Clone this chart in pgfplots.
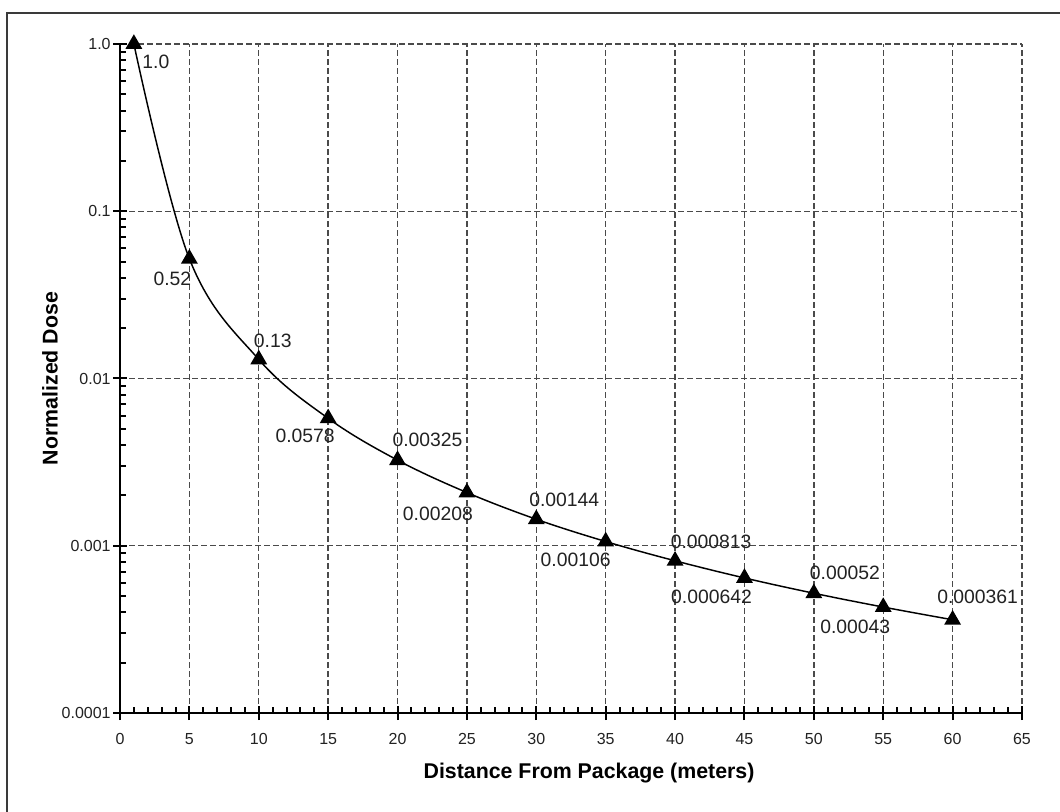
\documentclass[border=0pt]{standalone}
\usepackage{pgfplots}
\pgfplotsset{compat=1.18}
\usepackage{pgfplotstable}
\usepackage{fontspec}
\setmainfont{Liberation Sans}
\definecolor{gridc}{HTML}{4A4A4A}
\definecolor{txt}{HTML}{222222}
\definecolor{framec}{HTML}{3A3A3A}

\pgfplotstableread{
x    y         label     dx      dy
1    1.0       1.0       16.5    -13.5
5    0.052     0.52      -12.75  -15
10   0.013     0.13      10.5    14.25
15   0.00578   0.0578    -17.25  -13.5
20   0.00325   0.00325   22.5    15
25   0.00208   0.00208   -21.75  -15.75
30   0.00144   0.00144   21      14.25
35   0.00106   0.00106   -22.5   -13.5
40   0.000813  0.000813  27      14.25
45   0.000642  0.000642  -24.75  -14.25
50   0.00052   0.00052   23.25   15
55   0.00043   0.00043   -21     -15
60   0.000361  0.000361  18.75   17.25
}\dosetable

\begin{document}
\begin{tikzpicture}
\useasboundingbox (0,0) rectangle (795pt,609pt);
\fill[white] (0,0) rectangle (795pt,609pt);
\draw[framec, line width=1.9pt] (5.25pt,-2pt) -- (5.25pt,599.25pt) -- (797pt,599.25pt);
\begin{axis}[
  at={(90pt,74.25pt)}, anchor=south west,
  scale only axis, width=676.5pt, height=501.75pt,
  ymode=log,
  xmin=0, xmax=65, ymin=0.0001, ymax=1,
  axis x line*=bottom, axis y line*=left,
  axis line style={black, line width=2pt},
  xtick={0,5,...,65},
  minor x tick num=4,
  ytick={0.0001,0.001,0.01,0.1,1},
  yticklabels={0.0001,0.001,0.01,0.1,1.0},
  tick align=inside,
  major tick length=10.5pt,
  minor tick length=4.5pt,
  every tick/.style={black, line width=1.5pt},
  every major x tick/.append style={yshift=-5.25pt},
  every major y tick/.append style={xshift=-5.25pt},
  grid=major,
  major grid style={gridc, line width=1pt, dash pattern=on 4.5pt off 2.25pt},
  /pgf/number format/assume math mode=true,
  ticklabel style={font=\fontsize{12}{14}\selectfont, text=txt},
  xticklabel style={yshift=-12pt},
  yticklabel style={xshift=-3.5pt},
  xlabel={Distance From Package (meters)},
  ylabel={Normalized Dose},
  label style={font=\fontsize{16}{19}\selectfont\bfseries, text=black},
  xlabel style={at={(axis description cs:0.52,-0.0897)}, anchor=center},
  ylabel style={at={(axis description cs:-0.0776,0.5)}, anchor=center, rotate=0},
  clip=false,
]
\addplot[black, line width=1.1pt, smooth, tension=0.6,
  mark=triangle*, mark size=6.2pt, mark options={solid, fill=black},
  nodes near coords,
  point meta=explicit symbolic,
  visualization depends on={\thisrow{dx} \as \dx},
  visualization depends on={\thisrow{dy} \as \dy},
  every node near coord/.style={anchor=center, xshift=\dx pt, yshift=\dy pt,
     font=\fontsize{14.5}{17}\selectfont, text=txt, inner sep=0pt},
] table[x=x, y=y, meta=label] {\dosetable};
\end{axis}
\end{tikzpicture}
\end{document}
